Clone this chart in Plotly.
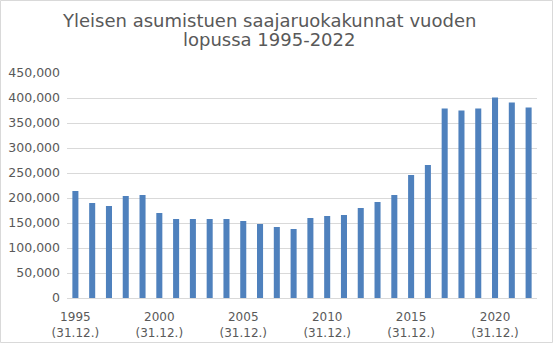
import plotly.graph_objects as go

years = list(range(1995, 2023))
recipients = [214000, 190000, 184000, 204000, 206000, 170000, 158000, 158000, 158000, 158000,
              154000, 148000, 142000, 138000, 160000, 164000, 166000, 180000, 192000, 206000,
              246000, 266000, 379000, 375000, 379000, 401000, 391000, 381000]
tick_years = [1995, 2000, 2005, 2010, 2015, 2020]
tick_labels = [f"{y}<br>(31.12.)" for y in tick_years]
y_ticks = list(range(0, 450001, 50000))
title_lines = ["Yleisen asumistuen saajaruokakunnat vuoden", "lopussa 1995-2022"]

PH = 225.0  # plot height px
def py(px):  # pixel y from top -> paper y
    return 1 + (73 - px) / PH

fig = go.Figure(go.Bar(x=years, y=recipients, marker_color="#4f81bd",
                       marker_line_width=0, width=0.36))

fig.update_layout(
    width=553, height=343,
    margin=dict(l=67, r=16, t=73, b=45, autoexpand=False),
    paper_bgcolor="white", plot_bgcolor="white",
    font=dict(family="DejaVu Sans", size=12, color="#595959"),
    showlegend=False,
    shapes=[dict(type="rect", xref="paper", yref="paper", x0=-66.5/470, x1=1+15.5/470,
                 y0=-44.5/PH, y1=py(0.5), line=dict(color="#d9d9d9", width=1),
                 layer="below")],
    annotations=[
        dict(text=title_lines[0], xref="paper", yref="paper", x=(268.5-67)/470, y=py(20),
             xanchor="center", yanchor="middle", showarrow=False,
             font=dict(family="DejaVu Sans", size=18, color="#595959")),
        dict(text=title_lines[1], xref="paper", yref="paper", x=(268.5-67)/470, y=py(40),
             xanchor="center", yanchor="middle", showarrow=False,
             font=dict(family="DejaVu Sans", size=18, color="#595959")),
    ],
)
fig.update_xaxes(range=[1994.5, 2022.5], tickvals=tick_years, ticktext=tick_labels,
                 showgrid=False, showline=True, linecolor="#d9d9d9", ticks="",
                 ticklabelstandoff=8, automargin=False,
                 tickfont=dict(size=12, color="#595959"))
fig.update_yaxes(range=[0, 450000], tickvals=y_ticks, tickformat=",",
                 showgrid=True, gridcolor="#d9d9d9", zeroline=False, automargin=False,
                 showline=False, ticks="", ticklabelstandoff=6,
                 tickfont=dict(size=12.5, color="#595959"))

fig.write_html("out.html")
